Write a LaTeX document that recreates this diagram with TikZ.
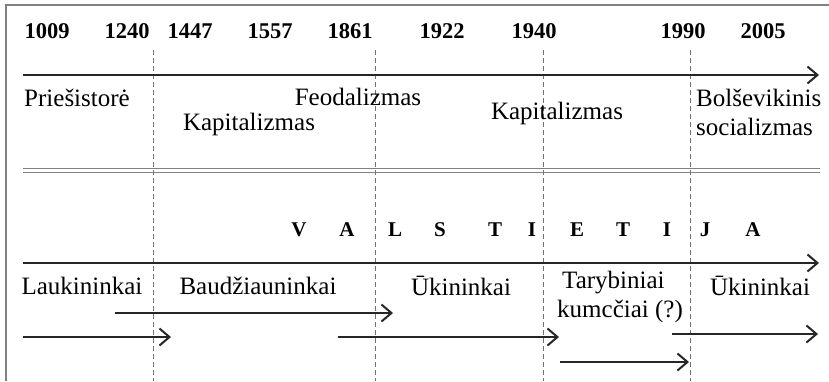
\documentclass[tikz,border=0pt]{standalone}
\usepackage{fontspec}
\setmainfont{Liberation Serif}
\usetikzlibrary{arrows.meta}

\tikzset{
  year/.style={font=\fontsize{22.5}{22}\selectfont\bfseries, inner sep=0pt},
  lbl/.style={font=\fontsize{25}{29}\selectfont, inner sep=0pt, align=left},
  letter/.style={font=\fontsize{21}{21}\selectfont\bfseries, inner sep=0pt},
  timeline/.style={line width=2.2pt, color=black!85, -{Straight Barb[length=10pt,width=17pt,line width=2pt]}},
  border/.style={gray, line width=1.2pt},
  divider/.style={gray!90!black, dashed, line width=0.9pt, dash pattern=on 5pt off 3pt}
}

\begin{document}
\begin{tikzpicture}[x=1pt,y=-1pt]
\useasboundingbox (0,0) rectangle (829,381);
\draw[border] (6,381) -- (6,5) -- (829,5);

% years
\node[year] (y1009) at (47,31) {1009};
\node[year] (y1240) at (127,31) {1240};
\node[year] (y1447) at (190,31) {1447};
\node[year] (y1557) at (270,31) {1557};
\node[year] (y1861) at (350,31) {1861};
\node[year] (y1922) at (442,31) {1922};
\node[year] (y1940) at (534,31) {1940};
\node[year] (y1990) at (683,31) {1990};
\node[year] (y2005) at (763,31) {2005};

% dividers
\foreach \x/\n in {153/a,375/b,543/c,690/d} {
  \coordinate (top\n) at (\x,50);
  \coordinate (bot\n) at (\x,381);
  \draw[divider] (top\n) -- (bot\n);
}

% upper timeline
\coordinate (t1s) at (23,75);
\coordinate (t1e) at (819,75);
\draw[timeline] (t1s) -- (t1e);
\node[lbl] (pries) at (77,98) {Priešistorė};
\node[lbl] (kap1) at (249,124) {Kapitalizmas};
\node[lbl] (feod) at (358,97) {Feodalizmas};
\node[lbl] (kap2) at (557,113) {Kapitalizmas};
\node[lbl, anchor=west] (bols) at (696,112) {Bolševikinis\\socializmas};

% double rule
\coordinate (d1s) at (23,168.5);
\coordinate (d1e) at (820,168.5);
\coordinate (d2s) at (23,172);
\coordinate (d2e) at (820,172);
\draw[gray, line width=1pt] (d1s) -- (d1e);
\draw[gray, line width=1pt] (d2s) -- (d2e);

% VALSTIETIJA
\foreach \c/\x [count=\i] in {V/299,A/347,L/395,S/440,T/495,I/532,E/577,T/623,I/667,J/705,A/753}
  \node[letter] (let\i) at (\x,230) {\c};

% lower timeline
\coordinate (t2s) at (23,263);
\coordinate (t2e) at (819,263);
\draw[timeline] (t2s) -- (t2e);
\node[lbl] (lauk) at (82,286) {Laukininkai};
\node[lbl] (baud) at (258,286) {Baudžiauninkai};
\node[lbl] (uk1) at (461,286) {Ūkininkai};
\node[lbl, anchor=west] (tary) at (557,297) {\hspace*{5pt}Tarybiniai\\kumcčiai (?)};
\node[lbl] (uk2) at (760,286) {Ūkininkai};

% periods
\coordinate (p1s) at (115,313); \coordinate (p1e) at (393,313);
\coordinate (p2s) at (23,337);  \coordinate (p2e) at (171,337);
\coordinate (p3s) at (338,337); \coordinate (p3e) at (559,337);
\coordinate (p4s) at (560,362); \coordinate (p4e) at (689,362);
\coordinate (p5s) at (672,334); \coordinate (p5e) at (818,334);
\foreach \n in {1,...,5}
  \draw[timeline] (p\n s) -- (p\n e);
\end{tikzpicture}
\end{document}
